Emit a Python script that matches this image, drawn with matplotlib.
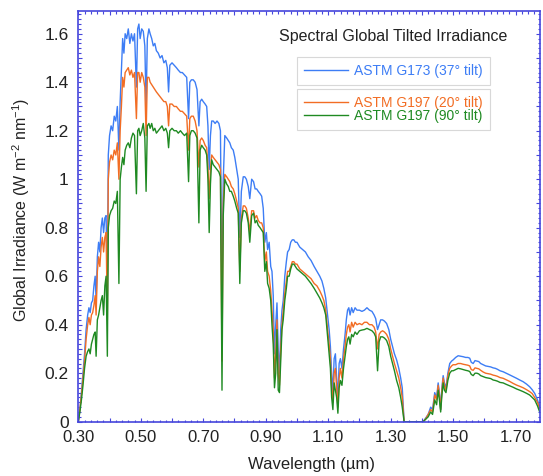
import numpy as np
import matplotlib.pyplot as plt
from matplotlib.ticker import FixedLocator, MultipleLocator, FuncFormatter

plt.rcParams['font.family'] = ['Liberation Sans', 'DejaVu Sans']
plt.rcParams['mathtext.fontset'] = 'custom'
plt.rcParams['mathtext.rm'] = 'Liberation Sans'

# Wellenlaengen (um) und Bestrahlungsstaerken (W m-2 nm-1)
wavelength = [
    0.300, 0.305, 0.310, 0.315, 0.320, 0.325, 0.330, 0.334, 0.338, 0.342,
    0.346, 0.350, 0.354, 0.357, 0.361, 0.365, 0.369, 0.373, 0.377, 0.381,
    0.385, 0.389, 0.393, 0.396, 0.400, 0.405, 0.410, 0.415, 0.420, 0.425,
    0.430, 0.434, 0.438, 0.442, 0.446, 0.450, 0.455, 0.460, 0.465, 0.470,
    0.475, 0.480, 0.486, 0.490, 0.494, 0.498, 0.503, 0.508, 0.513, 0.517,
    0.521, 0.526, 0.530, 0.535, 0.540, 0.545, 0.550, 0.556, 0.562, 0.568,
    0.574, 0.580, 0.585, 0.589, 0.593, 0.600, 0.607, 0.614, 0.620, 0.627,
    0.633, 0.640, 0.647, 0.653, 0.657, 0.662, 0.668, 0.674, 0.680, 0.686,
    0.690, 0.695, 0.700, 0.706, 0.711, 0.715, 0.719, 0.723, 0.727, 0.732,
    0.738, 0.744, 0.750, 0.755, 0.760, 0.764, 0.769, 0.775, 0.780, 0.785,
    0.790, 0.796, 0.801, 0.807, 0.812, 0.817, 0.822, 0.828, 0.833, 0.838,
    0.844, 0.849, 0.855, 0.861, 0.866, 0.871, 0.876, 0.882, 0.887, 0.892,
    0.897, 0.902, 0.906, 0.911, 0.916, 0.920, 0.924, 0.928, 0.932, 0.936,
    0.940, 0.944, 0.948, 0.952, 0.956, 0.961, 0.966, 0.970, 0.975, 0.980,
    0.985, 0.990, 0.995, 1.000, 1.009, 1.018, 1.027, 1.036, 1.045, 1.055,
    1.064, 1.073, 1.080, 1.086, 1.092, 1.098, 1.103, 1.107, 1.111, 1.115,
    1.119, 1.123, 1.127, 1.131, 1.135, 1.139, 1.144, 1.149, 1.154, 1.158,
    1.162, 1.166, 1.170, 1.175, 1.180, 1.186, 1.192, 1.200, 1.208, 1.216,
    1.224, 1.232, 1.240, 1.247, 1.252, 1.258, 1.263, 1.268, 1.274, 1.280,
    1.287, 1.294, 1.300, 1.306, 1.312, 1.319, 1.326, 1.332, 1.337, 1.343,
    1.380, 1.404, 1.412, 1.420, 1.428, 1.434, 1.441, 1.447, 1.452, 1.456,
    1.460, 1.464, 1.468, 1.472, 1.477, 1.483, 1.489, 1.495, 1.500, 1.508,
    1.516, 1.524, 1.532, 1.540, 1.547, 1.553, 1.558, 1.564, 1.570, 1.576,
    1.582, 1.588, 1.596, 1.604, 1.612, 1.620, 1.628, 1.635, 1.642, 1.650,
    1.660, 1.670, 1.681, 1.692, 1.703, 1.713, 1.724, 1.735, 1.745, 1.753,
    1.761, 1.770, 1.777,
]

g173_37 = [
    0.00, 0.05, 0.12, 0.20, 0.28, 0.38, 0.44, 0.47, 0.45, 0.49,
    0.50, 0.56, 0.60, 0.50, 0.68, 0.74, 0.70, 0.80, 0.84, 0.78,
    0.84, 0.85, 0.52, 1.10, 1.18, 1.22, 1.20, 1.26, 1.24, 1.30,
    1.12, 1.32, 1.45, 1.58, 1.52, 1.60, 1.58, 1.62, 1.56, 1.60,
    1.57, 1.60, 1.38, 1.62, 1.64, 1.58, 1.62, 1.61, 1.55, 1.30,
    1.58, 1.62, 1.60, 1.58, 1.55, 1.56, 1.53, 1.52, 1.50, 1.51,
    1.48, 1.49, 1.46, 1.36, 1.47, 1.48, 1.47, 1.46, 1.45, 1.44,
    1.44, 1.43, 1.42, 1.25, 1.40, 1.41, 1.41, 1.40, 1.37, 1.22,
    1.32, 1.33, 1.32, 1.31, 1.30, 1.22, 1.04, 1.18, 1.24, 1.24,
    1.23, 1.24, 1.23, 1.20, 0.50, 1.00, 1.18, 1.17, 1.16, 1.15,
    1.13, 1.12, 1.09, 1.04, 1.00, 0.76, 0.95, 1.01, 1.01, 1.00,
    0.97, 0.92, 1.00, 0.99, 0.96, 0.96, 0.95, 0.94, 0.93, 0.88,
    0.74, 0.78, 0.71, 0.74, 0.64, 0.62, 0.52, 0.28, 0.40, 0.49,
    0.30, 0.20, 0.38, 0.46, 0.50, 0.60, 0.66, 0.70, 0.71, 0.74,
    0.75, 0.75, 0.74, 0.74, 0.72, 0.71, 0.70, 0.68, 0.665, 0.64,
    0.62, 0.60, 0.58, 0.55, 0.51, 0.44, 0.38, 0.31, 0.20, 0.12,
    0.26, 0.28, 0.18, 0.10, 0.24, 0.26, 0.22, 0.30, 0.36, 0.42,
    0.46, 0.47, 0.44, 0.47, 0.45, 0.47, 0.46, 0.46, 0.455, 0.46,
    0.47, 0.46, 0.455, 0.44, 0.425, 0.38, 0.40, 0.42, 0.42, 0.415,
    0.405, 0.38, 0.34, 0.31, 0.28, 0.255, 0.22, 0.18, 0.14, 0.00,
    0.00, 0.00, 0.015, 0.03, 0.06, 0.05, 0.12, 0.10, 0.16, 0.12,
    0.05, 0.14, 0.19, 0.16, 0.14, 0.20, 0.24, 0.25, 0.255, 0.265,
    0.272, 0.27, 0.268, 0.265, 0.265, 0.262, 0.245, 0.24, 0.252, 0.25,
    0.248, 0.24, 0.235, 0.23, 0.228, 0.226, 0.222, 0.22, 0.216, 0.21,
    0.206, 0.20, 0.193, 0.186, 0.179, 0.172, 0.165, 0.155, 0.144, 0.132,
    0.117, 0.09, 0.06,
]

g197_20 = [
    0.00, 0.05, 0.11, 0.18, 0.25, 0.34, 0.40, 0.43, 0.40, 0.44,
    0.45, 0.48, 0.52, 0.44, 0.62, 0.68, 0.64, 0.72, 0.76, 0.70,
    0.76, 0.78, 0.42, 1.00, 1.07, 1.10, 1.08, 1.12, 1.10, 1.15,
    1.00, 1.20, 1.30, 1.42, 1.38, 1.44, 1.45, 1.46, 1.43, 1.45,
    1.42, 1.44, 1.25, 1.44, 1.44, 1.40, 1.44, 1.42, 1.38, 1.18,
    1.42, 1.42, 1.40, 1.39, 1.38, 1.37, 1.36, 1.35, 1.34, 1.33,
    1.32, 1.32, 1.30, 1.22, 1.31, 1.31, 1.30, 1.30, 1.29, 1.28,
    1.28, 1.27, 1.26, 1.12, 1.25, 1.26, 1.26, 1.24, 1.20, 1.05,
    1.16, 1.17, 1.16, 1.14, 1.13, 1.05, 0.92, 1.04, 1.10, 1.09,
    1.08, 1.07, 1.06, 1.04, 0.25, 0.90, 1.02, 1.01, 1.00, 0.99,
    0.97, 0.96, 0.94, 0.91, 0.88, 0.62, 0.84, 0.89, 0.89, 0.88,
    0.84, 0.78, 0.87, 0.87, 0.84, 0.85, 0.83, 0.82, 0.82, 0.80,
    0.66, 0.70, 0.62, 0.60, 0.54, 0.46, 0.38, 0.18, 0.28, 0.42,
    0.20, 0.15, 0.30, 0.40, 0.46, 0.53, 0.58, 0.62, 0.62, 0.64,
    0.66, 0.66, 0.65, 0.65, 0.63, 0.62, 0.61, 0.60, 0.59, 0.57,
    0.56, 0.54, 0.52, 0.50, 0.46, 0.38, 0.32, 0.26, 0.14, 0.08,
    0.20, 0.22, 0.14, 0.06, 0.18, 0.22, 0.18, 0.26, 0.31, 0.36,
    0.39, 0.40, 0.37, 0.41, 0.39, 0.41, 0.40, 0.405, 0.40, 0.41,
    0.41, 0.40, 0.40, 0.39, 0.37, 0.30, 0.36, 0.37, 0.375, 0.37,
    0.36, 0.34, 0.30, 0.27, 0.24, 0.21, 0.18, 0.14, 0.10, 0.00,
    0.00, 0.00, 0.012, 0.03, 0.05, 0.04, 0.11, 0.09, 0.15, 0.11,
    0.05, 0.13, 0.18, 0.15, 0.13, 0.19, 0.22, 0.23, 0.235, 0.235,
    0.24, 0.24, 0.237, 0.235, 0.233, 0.23, 0.215, 0.212, 0.222, 0.22,
    0.218, 0.212, 0.205, 0.20, 0.198, 0.196, 0.192, 0.19, 0.187, 0.182,
    0.179, 0.173, 0.166, 0.158, 0.151, 0.146, 0.14, 0.132, 0.124, 0.116,
    0.10, 0.08, 0.055,
]

g197_90 = [
    0.00, 0.04, 0.09, 0.15, 0.22, 0.27, 0.29, 0.30, 0.28, 0.32,
    0.34, 0.36, 0.37, 0.27, 0.42, 0.44, 0.47, 0.50, 0.52, 0.44,
    0.56, 0.60, 0.27, 0.80, 0.85, 0.87, 0.88, 0.91, 0.90, 0.95,
    0.57, 1.00, 1.05, 1.09, 1.06, 1.12, 1.14, 1.15, 1.13, 1.17,
    1.19, 1.18, 0.94, 1.20, 1.21, 1.18, 1.20, 1.23, 1.17, 0.95,
    1.22, 1.23, 1.21, 1.23, 1.20, 1.21, 1.19, 1.20, 1.21, 1.22,
    1.20, 1.21, 1.19, 1.13, 1.20, 1.21, 1.20, 1.20, 1.19, 1.20,
    1.19, 1.18, 1.19, 0.99, 1.18, 1.20, 1.20, 1.19, 1.17, 0.82,
    1.12, 1.14, 1.13, 1.12, 1.10, 1.00, 0.78, 0.98, 1.08, 1.06,
    1.05, 1.04, 1.03, 1.01, 0.13, 0.85, 1.00, 0.98, 0.97, 0.95,
    0.95, 0.93, 0.91, 0.88, 0.86, 0.57, 0.82, 0.87, 0.87, 0.86,
    0.82, 0.74, 0.85, 0.86, 0.82, 0.83, 0.81, 0.80, 0.79, 0.78,
    0.62, 0.66, 0.57, 0.55, 0.50, 0.40, 0.32, 0.14, 0.20, 0.38,
    0.13, 0.12, 0.25, 0.38, 0.42, 0.50, 0.55, 0.60, 0.60, 0.63,
    0.65, 0.65, 0.64, 0.63, 0.62, 0.61, 0.60, 0.585, 0.57, 0.55,
    0.53, 0.51, 0.49, 0.47, 0.44, 0.35, 0.28, 0.22, 0.10, 0.05,
    0.16, 0.13, 0.10, 0.035, 0.14, 0.17, 0.15, 0.22, 0.27, 0.31,
    0.34, 0.35, 0.32, 0.36, 0.35, 0.37, 0.36, 0.375, 0.378, 0.38,
    0.385, 0.38, 0.375, 0.365, 0.35, 0.21, 0.33, 0.35, 0.35, 0.345,
    0.335, 0.31, 0.27, 0.24, 0.21, 0.17, 0.14, 0.10, 0.06, 0.00,
    0.00, 0.00, 0.01, 0.02, 0.04, 0.03, 0.09, 0.07, 0.13, 0.09,
    0.04, 0.11, 0.16, 0.13, 0.12, 0.17, 0.20, 0.21, 0.21, 0.215,
    0.22, 0.218, 0.215, 0.212, 0.21, 0.207, 0.195, 0.19, 0.20, 0.20,
    0.197, 0.19, 0.186, 0.182, 0.18, 0.178, 0.172, 0.17, 0.167, 0.162,
    0.16, 0.154, 0.148, 0.142, 0.135, 0.13, 0.124, 0.117, 0.11, 0.10,
    0.09, 0.065, 0.04,
]

labels = ['ASTM G173 (37° tilt)', 'ASTM G197 (20° tilt)', 'ASTM G197 (90° tilt)']
colors = ['#3d7df5', '#f26d24', '#1f8a22']
axis_blue = '#4646dc'

W, H = 543, 476
fig = plt.figure(figsize=(W / 100, H / 100), dpi=100)
ax = fig.add_axes([78.3 / W, 1 - 421.7 / H, 461.7 / W, 411 / H])

lines = []
for vals, c, lab in zip([g173_37, g197_20, g197_90], colors, labels):
    ln, = ax.plot(wavelength, vals, color=c, lw=1.0, label=lab)
    lines.append(ln)

ax.set_xlim(0.3, 1.778)
ax.set_ylim(0, 1.695)

# Achsen und Ticks
x_major = np.round(np.arange(0.3, 1.78, 0.1), 2)
ax.xaxis.set_major_locator(FixedLocator(x_major))
ax.xaxis.set_minor_locator(MultipleLocator(0.02))
ax.xaxis.set_major_formatter(FuncFormatter(
    lambda v, p: f'{v:.2f}' if round((v - 0.3) / 0.1) % 2 == 0 else ''))
ax.yaxis.set_major_locator(MultipleLocator(0.1))
ax.yaxis.set_minor_locator(MultipleLocator(0.02))
ax.yaxis.set_major_formatter(FuncFormatter(
    lambda v, p: f'{v:g}' if round(v / 0.1) % 2 == 0 else ''))

ax.tick_params(which='both', direction='in', top=True, right=True,
               color=axis_blue, width=0.8, labelcolor='#222222')
ax.tick_params(which='major', length=3.2)
ax.tick_params(which='minor', length=1.8)
ax.tick_params(axis='x', labelsize=12, pad=6)
ax.tick_params(axis='y', labelsize=12.5, pad=7)
for sp in ax.spines.values():
    sp.set_color(axis_blue)
    sp.set_linewidth(1.2)

ax.set_xlabel('Wavelength (µm)', fontsize=12, color='#222222')
ax.xaxis.set_label_coords(0.505, -0.085)
ax.set_ylabel('Global Irradiance (W m$^{-2}$ nm$^{-1}$)', fontsize=11.5, color='#222222')
ax.yaxis.set_label_coords(-0.100, 0.515)

fig.text(393 / W, 1 - 37 / H, 'Spectral Global Tilted Irradiance',
         ha='center', va='center', fontsize=11.5, color='#222222')

# Zwei Legendenkaesten wie im Original
leg_kw = dict(loc='upper left', bbox_transform=fig.transFigure, fontsize=10,
              frameon=True, fancybox=False, edgecolor='#d8d8d8', framealpha=1,
              handlelength=3.2, handletextpad=0.4, borderpad=0.5,
              borderaxespad=0)
leg1 = ax.legend(handles=[lines[0]], bbox_to_anchor=(297 / W, 1 - 57 / H), **leg_kw)
leg1.get_frame().set_linewidth(0.8)
leg1.get_texts()[0].set_color(colors[0])
ax.add_artist(leg1)
leg2 = ax.legend(handles=lines[1:], bbox_to_anchor=(297 / W, 1 - 89 / H),
                 labelspacing=-0.08, **leg_kw)
leg2.get_frame().set_linewidth(0.8)
for t, c in zip(leg2.get_texts(), colors[1:]):
    t.set_color(c)

fig.savefig('out.png', dpi=100)
